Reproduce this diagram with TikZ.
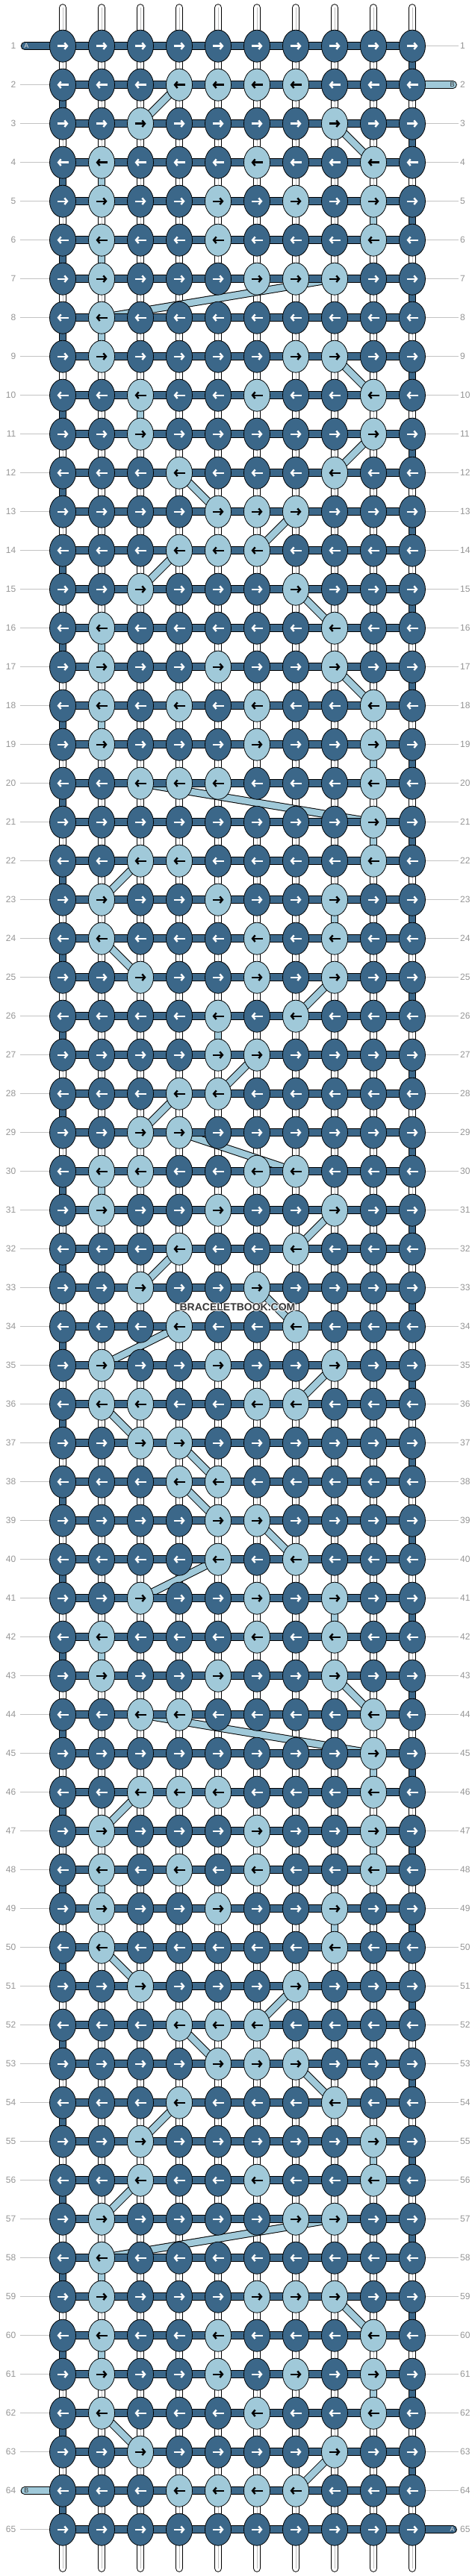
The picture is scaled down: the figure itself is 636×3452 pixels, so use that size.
\documentclass[tikz,border=0pt]{standalone}
\usepackage{fontspec}
\setmainfont{Liberation Sans}
\usetikzlibrary{shapes.geometric,arrows.meta}
\pgfdeclarelayer{bg}
\pgfsetlayers{bg,main}
\definecolor{darkB}{RGB}{59,103,137}
\definecolor{lightB}{RGB}{160,201,217}
\definecolor{labgray}{RGB}{150,150,150}
\definecolor{linegray}{RGB}{195,195,195}
\definecolor{tubeline}{RGB}{190,190,190}
\definecolor{wmgray}{RGB}{55,55,55}
\begin{document}
\begin{tikzpicture}[x=1pt,y=-1pt,
  knot/.style={ellipse,draw=black,line width=0.8pt,minimum width=35pt,minimum height=43pt,inner sep=0pt},
  arr/.style={line width=2.4pt,-{Straight Barb[length=3.6pt,width=8.6pt]}},
  strO/.style={line width=10.6pt,draw=black},
  strI/.style={line width=8.6pt},
  midline/.style={line width=0.6pt,draw=tubeline},
  labL/.style={anchor=east,inner xsep=5pt,inner ysep=1pt,text=labgray,font=\fontsize{12}{14}\selectfont},
  labR/.style={anchor=west,inner xsep=2.5pt,inner ysep=1pt,text=labgray,font=\fontsize{12}{14}\selectfont},
  labline/.style={draw=linegray,line width=1pt},
  tabtxt/.style={inner sep=0pt,font=\fontsize{9}{9}\selectfont},
  wm/.style={inner sep=0pt,font=\fontsize{14}{14}\selectfont\bfseries}
]
\useasboundingbox (0,0) rectangle (636,3452);
% light knots
\foreach \r/\cs in {2/{4,5,6,7},3/{3,8},4/{2,6,9},5/{2,5,7,9},6/{2,5,9},7/{2,6,7,8},8/{2},9/{2,7,8},
 10/{3,6,9},11/{3,9},12/{4,8},13/{5,6,7},14/{4,5,6},15/{3,7},16/{2,8},17/{2,5,8},18/{2,4,6,9},19/{2,6,9},
 20/{3,4,5,9},21/{9},22/{3,4,9},23/{2,5,8},24/{2,6,8},25/{3,6,8},26/{5,7},27/{5,6},28/{4,5},29/{3,4},
 30/{2,3,6,7},31/{2,5,8},32/{4,7},33/{3,6},34/{4,7},35/{2,5,8},36/{2,3,6,7},37/{3,4},38/{4,5},39/{5,6},
 40/{5,7},41/{3,6,8},42/{2,6,8},43/{2,5,8},44/{3,4,9},45/{9},46/{3,4,5,9},47/{2,6,9},48/{2,4,6,9},49/{2,5,8},
 50/{2,8},51/{3,7},52/{4,5,6},53/{5,6,7},54/{4,8},55/{3,9},56/{3,6,9},57/{2,7,8},58/{2},59/{2,6,7,8},
 60/{2,5,9},61/{2,5,7,9},62/{2,6,9},63/{3,8},64/{4,5,6,7}}{%
  \foreach \c in \cs {\expandafter\gdef\csname L-\r-\c\endcsname{1}}}
% knots
\foreach \r in {1,...,65}{
  \pgfmathsetmacro{\y}{61.7+52*(\r-1)}
  \foreach \c in {1,...,10}{
    \pgfmathsetmacro{\x}{84+52*(\c-1)}
    \ifcsname L-\r-\c\endcsname
      \node[knot,fill=lightB] (k-\r-\c) at (\x,\y) {};
      \def\acol{black}
    \else
      \node[knot,fill=darkB] (k-\r-\c) at (\x,\y) {};
      \def\acol{white}
    \fi
    \ifodd\r
      \draw[arr,draw=\acol] (\x-7.5,\y) -- (\x+7.5,\y);
    \else
      \draw[arr,draw=\acol] (\x+7.5,\y) -- (\x-7.5,\y);
    \fi
  }
  \node[labL] (ll-\r) at (26.5,\y) {\r};
  \node[labR] (rl-\r) at (613.5,\y) {\r};
}
% label lines
\foreach \r in {1,...,65}{
  \ifnum\r=1 \else\ifnum\r=64 \else \draw[labline] (ll-\r) -- (k-\r-1); \fi\fi
  \ifnum\r=2 \else\ifnum\r=65 \else \draw[labline] (k-\r-10) -- (rl-\r); \fi\fi
}
% tab coordinates and letters
\coordinate (tabA-top) at (33,61.7);
\coordinate (tabB-top) at (606.5,113.7);
\coordinate (tabB-bot) at (33,3337.7);
\coordinate (tabA-bot) at (606.5,3389.7);
\node[tabtxt,text=white!88!black] (tA1) at (35.5,61.7) {A};
\node[tabtxt,text=black!80] (tB1) at (605.5,113.7) {B};
\node[tabtxt,text=black!80] (tB2) at (35.5,3337.7) {B};
\node[tabtxt,text=white!88!black] (tA2) at (605.5,3389.7) {A};
% watermark
\foreach \dx/\dy [count=\i] in {-1/0,1/0,0/-1,0/1,-0.8/-0.8,0.8/0.8,-0.8/0.8,0.8/-0.8}{
  \node[wm,text=white,opacity=0.75] (wmh-\i) at (318+\dx,1752+\dy) {BRACELETBOOK.COM};
}
\node[wm,text=wmgray] (wm) at (318,1752) {BRACELETBOOK.COM};
\begin{pgfonlayer}{bg}
  \fill[white] (0,0) rectangle (636,3452);
  % top and bottom strings
  \foreach \c in {1,...,10}{
    \pgfmathsetmacro{\x}{84+52*(\c-1)}
    \coordinate (tt-\c) at (\x,10.5);
    \coordinate (tb-\c) at (\x,3441.5);
    \draw[strO,line cap=round] (tt-\c) -- (k-1-\c.center);
    \draw[strI,draw=white,line cap=round] (tt-\c) -- (k-1-\c.center);
    \draw[midline] (tt-\c) -- (k-1-\c.center);
    \draw[strO,line cap=round] (tb-\c) -- (k-65-\c.center);
    \draw[strI,draw=white,line cap=round] (tb-\c) -- (k-65-\c.center);
    \draw[midline] (tb-\c) -- (k-65-\c.center);
  }
  % vertical strings between rows
  \def\whitestr{white}
  \foreach \r in {1,...,64}{
    \pgfmathtruncatemacro{\rn}{\r+1}
    \foreach \c in {1,...,10}{
      \def\vcol{white}
      \ifodd\r
        \ifnum\c=10 \def\vcol{darkB}\fi
      \else
        \ifnum\c=1 \def\vcol{darkB}\fi
      \fi
      \draw[strO] (k-\r-\c.center) -- (k-\rn-\c.center);
      \draw[strI,draw=\vcol] (k-\r-\c.center) -- (k-\rn-\c.center);
      \ifx\vcol\whitestr \draw[midline] (k-\r-\c.center) -- (k-\rn-\c.center); \fi
    }
  }
  % light string path
  \foreach \ra/\ca/\rb/\cb in {2/4/3/3,3/8/4/9,4/2/5/2,5/9/6/9,6/2/7/2,7/8/8/2,8/2/9/2,9/8/10/9,
   10/3/11/3,11/9/12/8,12/4/13/5,13/7/14/6,14/4/15/3,15/7/16/8,16/2/17/2,17/8/18/9,18/2/19/2,19/9/20/9,
   20/3/21/9,21/9/22/9,22/3/23/2,23/8/24/8,24/2/25/3,25/8/26/7,26/5/27/5,27/6/28/5,28/4/29/3,29/4/30/7,
   30/2/31/2,31/8/32/7,32/4/33/3,33/6/34/7,34/4/35/2,35/8/36/7,36/2/37/3,37/4/38/5,38/4/39/5,39/6/40/7,
   40/5/41/3,41/8/42/8,42/2/43/2,43/8/44/9,44/3/45/9,45/9/46/9,46/3/47/2,47/9/48/9,48/2/49/2,49/8/50/8,
   50/2/51/3,51/7/52/6,52/4/53/5,53/7/54/8,54/4/55/3,55/9/56/9,56/3/57/2,57/8/58/2,58/2/59/2,59/8/60/9,
   60/2/61/2,61/9/62/9,62/2/63/3,63/8/64/7}{
    \draw[strO] (k-\ra-\ca.center) -- (k-\rb-\cb.center);
    \draw[strI,draw=lightB] (k-\ra-\ca.center) -- (k-\rb-\cb.center);
  }
  % horizontal working string
  \foreach \r in {1,...,65}{
    \foreach \c in {1,...,9}{
      \pgfmathtruncatemacro{\cn}{\c+1}
      \draw[strO] (k-\r-\c.center) -- (k-\r-\cn.center);
      \draw[strI,draw=darkB] (k-\r-\c.center) -- (k-\r-\cn.center);
    }
  }
  % tabs
  \draw[strO,line cap=round] (tabA-top) -- (k-1-1.center);
  \draw[strI,draw=darkB,line cap=round] (tabA-top) -- (k-1-1.center);
  \draw[strO,line cap=round] (tabB-top) -- (k-2-10.center);
  \draw[strI,draw=lightB,line cap=round] (tabB-top) -- (k-2-10.center);
  \draw[strO,line cap=round] (tabB-bot) -- (k-64-1.center);
  \draw[strI,draw=lightB,line cap=round] (tabB-bot) -- (k-64-1.center);
  \draw[strO,line cap=round] (tabA-bot) -- (k-65-10.center);
  \draw[strI,draw=darkB,line cap=round] (tabA-bot) -- (k-65-10.center);
\end{pgfonlayer}
\end{tikzpicture}
\end{document}
